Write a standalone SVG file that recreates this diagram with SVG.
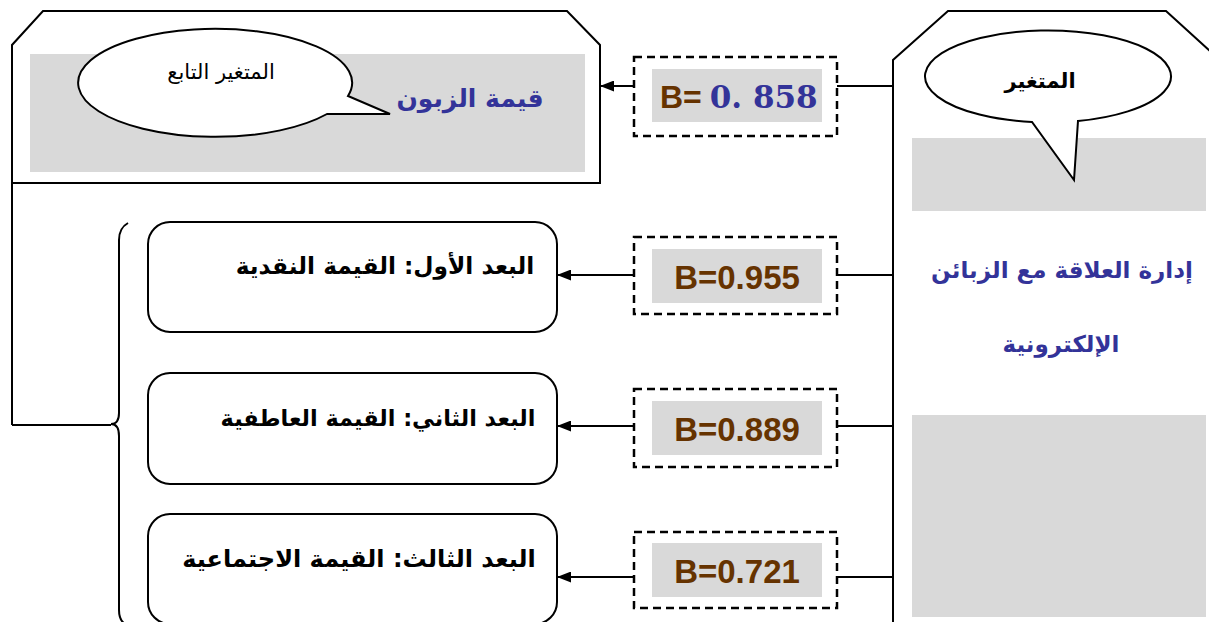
<svg xmlns="http://www.w3.org/2000/svg" width="1209" height="622" viewBox="0 0 1209 622">
<style>
.ln{fill:none;stroke:#000;stroke-width:2}
.grey{fill:#d9d9d9}
.dash{fill:#fff;stroke:#000;stroke-width:2.5;stroke-dasharray:8 5}
.rb{fill:#fff;stroke:#000;stroke-width:2}
.ar{font-family:"DejaVu Sans",sans-serif;}
.dim{font-weight:bold;fill:#000}
.blue{fill:#333399;font-weight:bold}
.bv{font-family:"Liberation Sans",Arial,sans-serif;font-weight:bold;font-size:33px;fill:#663300}
</style>
<defs>
<marker id="ah" markerWidth="14" markerHeight="11" refX="14" refY="5.5" orient="auto" markerUnits="userSpaceOnUse">
<path d="M0,0 L14,5.5 L0,11 Z" fill="#000"/>
</marker>
</defs>
<rect width="1209" height="622" fill="#fff"/>

<g id="dependent">
<path class="ln" d="M12,425 L12,45 L43,11 L567,11 L600,45 L600,183 L12,183"/>
<rect class="grey" x="30" y="54" width="555" height="118"/>
<path d="M348,96 A137,54 0 1 0 327,114 L390,114 Z" fill="#fff" stroke="#000" stroke-width="2"/>
<text class="ar" x="221" y="79" font-size="21" text-anchor="middle" direction="rtl">المتغير التابع</text>
<text class="ar blue" x="470" y="107" font-size="25" text-anchor="middle" direction="rtl">قيمة الزبون</text>
</g>

<g id="independent">
<path class="ln" d="M893,622 L893,60 L948,11 L1166,11 L1211,52"/>
<rect class="grey" x="912" y="138" width="294" height="73"/>
<rect class="grey" x="912" y="415" width="294" height="202"/>
<path d="M1032,122 A123,46 0 1 1 1078,121 L1074,180 Z" fill="#fff" stroke="#000" stroke-width="2"/>
<text class="ar" x="1040" y="88" font-size="21" font-weight="bold" text-anchor="middle" direction="rtl">المتغير</text>
<text class="ar blue" x="1062" y="278" font-size="23" text-anchor="middle" direction="rtl">إدارة العلاقة مع الزبائن</text>
<text class="ar blue" x="1061" y="352" font-size="23" text-anchor="middle" direction="rtl">الإلكترونية</text>
</g>

<g id="brace">
<path class="ln" d="M128,223 Q119,228 119,240 L119,413 Q119,424 111,424 Q119,424 119,436 L119,610 Q119,620 125,624"/>
</g>

<g id="dim1">
<rect class="rb" x="148" y="222" width="409" height="110" rx="22"/>
<text class="ar dim" x="385" y="274" font-size="23.3" text-anchor="middle" direction="rtl">البعد الأول: القيمة النقدية</text>
</g>
<g id="dim2">
<rect class="rb" x="148" y="373" width="409" height="111" rx="22"/>
<text class="ar dim" x="378" y="426" font-size="22.4" text-anchor="middle" direction="rtl">البعد الثاني: القيمة العاطفية</text>
</g>
<g id="dim3">
<rect class="rb" x="148" y="514" width="409" height="110" rx="22"/>
<text class="ar dim" x="359" y="567" font-size="24" text-anchor="middle" direction="rtl">البعد الثالث: القيمة الاجتماعية</text>
</g>

<g id="connectors">
<line class="ln" x1="12" y1="425" x2="111" y2="425"/>
<line class="ln" x1="893" y1="86" x2="837" y2="86"/>
<line class="ln" x1="634" y1="86" x2="600" y2="86" marker-end="url(#ah)"/>
<line class="ln" x1="893" y1="275" x2="837" y2="275"/>
<line class="ln" x1="634" y1="275" x2="557" y2="275" marker-end="url(#ah)"/>
<line class="ln" x1="893" y1="426" x2="837" y2="426"/>
<line class="ln" x1="634" y1="426" x2="557" y2="426" marker-end="url(#ah)"/>
<line class="ln" x1="893" y1="577" x2="837" y2="577"/>
<line class="ln" x1="634" y1="577" x2="557" y2="577" marker-end="url(#ah)"/>
</g>

<g id="b0">
<rect class="dash" x="634" y="57" width="203" height="79"/>
<rect class="grey" x="652" y="69" width="170" height="53"/>
<text x="660" y="108"><tspan class="bv" style="font-size:32px">B=</tspan><tspan font-family="DejaVu Serif,serif" font-size="31" fill="#333399" font-weight="bold" dx="8">0. 858</tspan></text>
</g>
<g id="b1">
<rect class="dash" x="634" y="237" width="203" height="77"/>
<rect class="grey" x="652" y="249" width="170" height="54"/>
<text class="bv" x="737" y="289" text-anchor="middle">B=0.955</text>
</g>
<g id="b2">
<rect class="dash" x="634" y="389" width="203" height="78"/>
<rect class="grey" x="652" y="401" width="170" height="54"/>
<text class="bv" x="737" y="441" text-anchor="middle">B=0.889</text>
</g>
<g id="b3">
<rect class="dash" x="634" y="532" width="203" height="76"/>
<rect class="grey" x="652" y="543" width="170" height="54"/>
<text class="bv" x="737" y="583" text-anchor="middle">B=0.721</text>
</g>
</svg>
